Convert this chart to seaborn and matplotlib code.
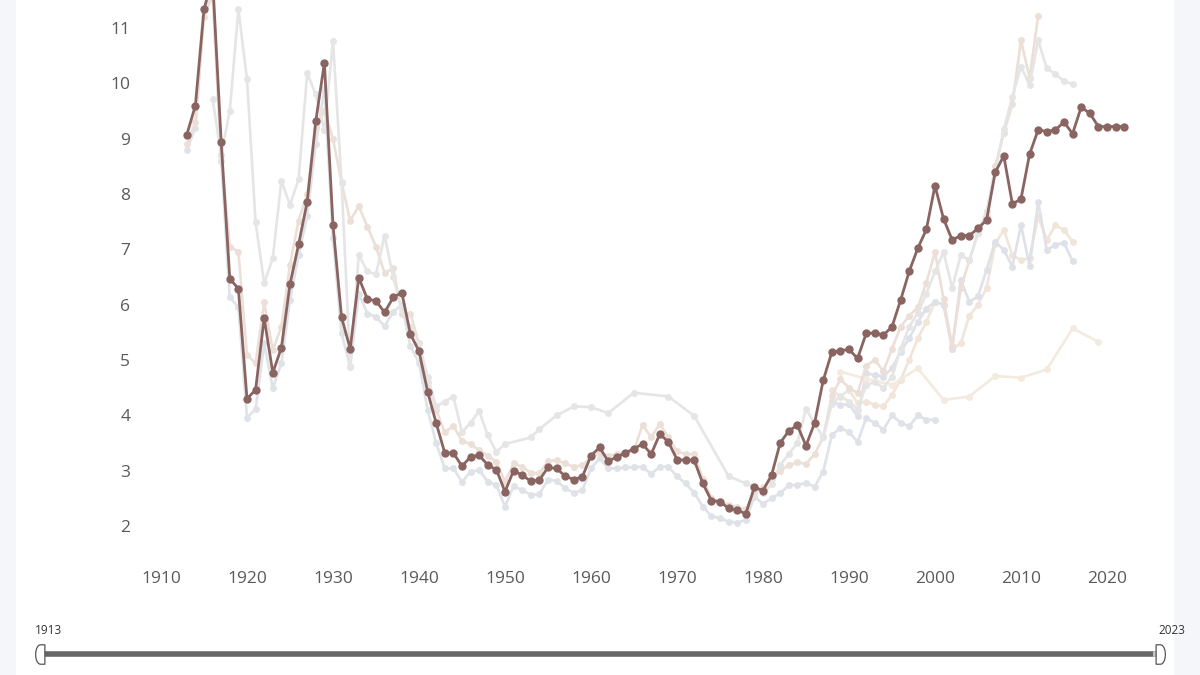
import matplotlib
matplotlib.use('Agg')
import matplotlib.pyplot as plt
from matplotlib.path import Path
import numpy as np
import seaborn as sns
import pandas as pd

sns.set_style('white')
plt.rcParams['font.family'] = ['Open Sans', 'DejaVu Sans']


# ---------------- data ----------------
# highlighted series, 1913-2022
main_years = list(range(1913, 2023))
main_vals = [9.07, 9.6, 11.34, 11.9, 8.94, 6.47, 6.29, 4.3, 4.46, 5.76,
             4.77, 5.22, 6.37, 7.09, 7.86, 9.32, 10.37, 7.44, 5.77, 5.2,
             6.49, 6.1, 6.07, 5.86, 6.13, 6.22, 5.47, 5.16, 4.43, 3.86,
             3.32, 3.32, 3.08, 3.25, 3.28, 3.1, 3.02, 2.62, 3.0, 2.92,
             2.81, 2.83, 3.06, 3.04, 2.9, 2.84, 2.89, 3.27, 3.42, 3.17,
             3.25, 3.32, 3.4, 3.48, 3.3, 3.66, 3.52, 3.2, 3.19, 3.19,
             2.77, 2.46, 2.44, 2.32, 2.29, 2.22, 2.7, 2.64, 2.92, 3.5,
             3.72, 3.82, 3.45, 3.86, 4.63, 5.14, 5.17, 5.19, 5.03, 5.48,
             5.49, 5.45, 5.6, 6.08, 6.6, 7.02, 7.36, 8.15, 7.55, 7.17,
             7.25, 7.25, 7.38, 7.53, 8.39, 8.69, 7.82, 7.91, 8.72, 9.16,
             9.13, 9.16, 9.3, 9.09, 9.57, 9.46, 9.22, 9.22, 9.22, 9.22]

# faint comparison series
gray_years = (list(range(1916, 1951)) +
              [1953, 1954, 1956, 1958, 1960, 1962, 1965, 1969, 1972, 1976, 1978] +
              list(range(1979, 2017)))
gray_vals = [9.72, 8.7, 9.5, 11.34, 10.08, 7.49, 6.39, 6.84, 8.24, 7.8,
             8.27, 10.18, 9.8, 9.15, 10.77, 8.22, 4.9, 6.9, 6.6, 6.55,
             7.25, 6.5, 5.9, 5.6, 5.3, 4.7, 4.16, 4.25, 4.34, 3.7,
             3.86, 4.08, 3.64, 3.34, 3.48,
             3.6, 3.75, 4.0, 4.16, 4.15, 4.04, 4.41, 4.34, 3.99, 2.9, 2.77,
             2.71, 2.6, 2.75, 3.1, 3.3, 3.5, 4.12, 3.85, 3.6, 4.2,
             4.35, 4.25, 4.1, 4.55, 4.6, 4.5, 4.7, 5.2, 5.6, 5.85,
             6.2, 6.6, 6.95, 6.3, 6.9, 6.8, 7.3, 7.7, 8.4, 9.17,
             9.76, 10.3, 9.97, 10.78, 10.27, 10.17, 10.04, 9.99]

bluegray_years = list(range(1913, 2001))
bluegray_vals = [8.8, 9.2, 11.3, 11.7, 8.6, 6.13, 5.96, 3.96, 4.11, 5.3,
                 4.49, 4.94, 6.08, 6.9, 7.6, 8.9, 9.9, 7.2, 5.48, 4.88,
                 6.2, 5.84, 5.78, 5.61, 5.87, 6.0, 5.25, 4.95, 4.1, 3.5,
                 3.04, 3.04, 2.8, 2.98, 3.01, 2.8, 2.74, 2.35, 2.72, 2.65,
                 2.56, 2.58, 2.83, 2.82, 2.68, 2.6, 2.65, 3.04, 3.22, 3.04,
                 3.04, 3.06, 3.06, 3.07, 2.94, 3.07, 3.07, 2.9, 2.77, 2.6,
                 2.35, 2.18, 2.14, 2.08, 2.06, 2.11, 2.53, 2.4, 2.5, 2.59,
                 2.74, 2.74, 2.78, 2.71, 2.98, 3.64, 3.77, 3.7, 3.52, 3.95,
                 3.86, 3.74, 4.0, 3.87, 3.8, 4.0, 3.92, 3.92]

beige_years = list(range(1913, 2013))
beige_vals = [8.9, 9.3, 11.2, 11.6, 8.7, 7.05, 6.96, 5.09, 4.94, 6.04,
              5.18, 5.6, 6.72, 7.52, 8.0, 9.2, 9.5, 9.0, 8.2, 7.52,
              7.78, 7.41, 7.05, 6.57, 6.66, 5.84, 5.84, 5.3, 4.6, 4.1,
              3.69, 3.81, 3.54, 3.48, 3.37, 3.27, 3.16, 2.8, 3.13, 3.07,
              2.96, 2.95, 3.17, 3.19, 3.13, 3.07, 3.1, 3.24, 3.32, 3.27,
              3.3, 3.31, 3.37, 3.83, 3.6, 3.85, 3.6, 3.35, 3.3, 3.3,
              2.85, 2.5, 2.45, 2.38, 2.35, 2.3, 2.6, 2.7, 2.85, 3.0,
              3.1, 3.15, 3.12, 3.3, 3.6, 4.35, 4.65, 4.5, 4.4, 4.9,
              5.0, 4.8, 5.2, 5.6, 5.8, 5.95, 6.4, 6.95, 6.1, 5.25,
              6.3, 6.8, 7.3, 7.6, 8.5, 9.1, 9.63, 10.78, 10.1, 11.22]

peach_years = list(range(1988, 2017))
peach_vals = [4.46, 4.34, 4.46, 4.22, 4.25, 4.19, 4.16, 4.37, 4.64, 5.0,
              5.39, 5.69, 6.05, 6.0, 5.2, 5.3, 5.8, 6.0, 6.3, 7.1,
              7.35, 6.9, 6.8, 6.85, 7.6, 7.17, 7.44, 7.35, 7.14]

slate_years = list(range(1988, 2017))
slate_vals = [4.25, 4.19, 4.2, 3.98, 4.76, 4.73, 4.7, 4.85, 5.15, 5.39,
              5.69, 5.93, 6.05, 6.0, 5.2, 6.45, 6.05, 6.15, 6.63, 7.14,
              6.99, 6.69, 7.44, 6.7, 7.86, 6.99, 7.08, 7.12, 6.79]

cream_years = [1989, 1992, 1995, 1998, 2001, 2004, 2007, 2010, 2013, 2016, 2019]
cream_vals = [4.79, 4.66, 4.55, 4.85, 4.28, 4.34, 4.71, 4.68, 4.83, 5.57, 5.33]

x_ticks = list(range(1910, 2021, 10))
y_ticks = list(range(2, 12))
range_start, range_end = 1913, 2023


# ---------------- figure ----------------
fig = plt.figure(figsize=(12, 6.75), dpi=100)
fig.patch.set_facecolor('#f4f6f9')
panel = plt.Rectangle((16 / 1200, 0), 1158 / 1200, 1, transform=fig.transFigure,
                      facecolor='white', edgecolor='none', zorder=-10)
fig.patches.append(panel)

ax = fig.add_axes([140 / 1200, 125 / 675, 1000 / 1200, 550 / 675])
ax.patch.set_visible(False)

faint = [
    (bluegray_years, bluegray_vals, '#dfe2e7'),
    (peach_years, peach_vals, '#f1e5da'),
    (slate_years, slate_vals, '#dee1e7'),
    (cream_years, cream_vals, '#f3ebdf'),
    (beige_years, beige_vals, '#ecdfd7'),
    (gray_years, gray_vals, '#e5e5e5'),
]
for yrs, vals, col in faint:
    sns.lineplot(x=yrs, y=vals, ax=ax, color=col, linewidth=1.9,
                 marker='o', markersize=5, markeredgewidth=0, estimator=None)

sns.lineplot(x=main_years, y=main_vals, ax=ax, color='#8a6461', linewidth=2.0,
             marker='o', markersize=6, markeredgewidth=0, estimator=None)

ax.set_xlim(1907.56, 2023.84)
ax.set_ylim(1.566, 11.507)
ax.set_xticks(x_ticks)
ax.set_yticks(y_ticks)
ax.tick_params(axis='both', length=0, labelsize=12.5, labelcolor='#5a5a5a')
ax.tick_params(axis='x', pad=15)
ax.tick_params(axis='y', pad=7)
ax.set_xlabel('')
ax.set_ylabel('')
sns.despine(ax=ax, left=True, bottom=True)

# range slider at the bottom
sax = fig.add_axes([40 / 1200, 10 / 675, 1120 / 1200, 30 / 675], frame_on=False)
sax.patch.set_visible(False)
sax.set_xlim(range_start, range_end)
sax.set_ylim(0, 1)
sax.set_xticks([])
sax.set_yticks([])
sax.plot([range_start, range_end], [0.37, 0.37], color='#666666', linewidth=4,
         solid_capstyle='butt', clip_on=False)
sax.plot([range_end - 0.7, range_end], [0.37, 0.37], color='#c4c4c4', linewidth=4,
         solid_capstyle='butt', clip_on=False)

# D-shaped handles (round side facing outward)
t = np.linspace(np.pi / 2, 3 * np.pi / 2, 20)
left_knob = Path(np.vstack([np.column_stack([0.5 * np.cos(t), np.sin(t)]),
                            [[0.45, -1], [0.45, 1], [0, 1]]]))
right_knob = Path(np.vstack([np.column_stack([-0.5 * np.cos(t), np.sin(t)]),
                             [[-0.45, -1], [-0.45, 1], [0, 1]]]))
sax.plot([range_start], [0.37], marker=left_knob, markersize=14, markerfacecolor='white',
         markeredgecolor='#555555', markeredgewidth=0.9, clip_on=False)
sax.plot([range_end], [0.37], marker=right_knob, markersize=14, markerfacecolor='white',
         markeredgecolor='#555555', markeredgewidth=0.9, clip_on=False)
fig.text(35 / 1200, 1 - 631 / 675, str(range_start), fontsize=8.5, color='#333333',
         ha='left', va='center')
fig.text(1185 / 1200, 1 - 631 / 675, str(range_end), fontsize=8.5, color='#333333',
         ha='right', va='center')

fig.savefig('out.png', dpi=100)
